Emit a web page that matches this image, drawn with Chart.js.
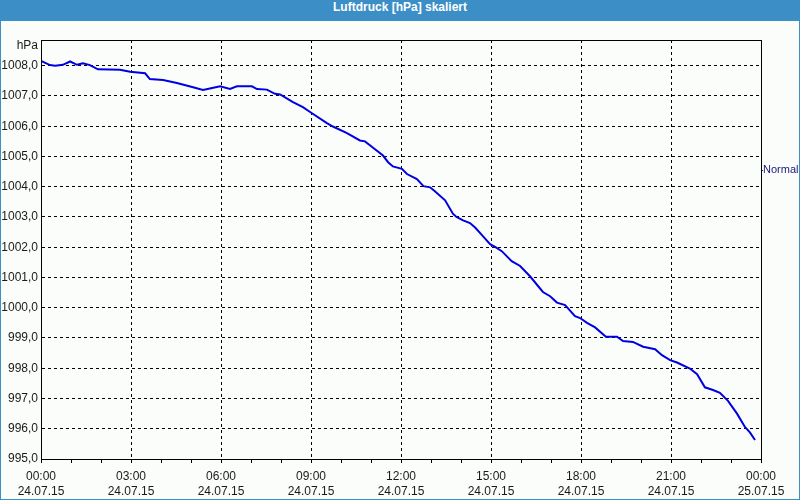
<!DOCTYPE html>
<html>
<head>
<meta charset="utf-8">
<script src="https://cdn.jsdelivr.net/npm/chart.js@4/dist/chart.umd.min.js"></script>
<style>
  html, body { margin: 0; padding: 0; background: #fbfdfb; }
  #rahmen { width: 800px; height: 500px; box-sizing: border-box; border: 1px solid #3c8fc6; border-top: 0; background: #fbfdfb; }
  #titel { height: 21px; line-height: 20px; background: #3c8fc6; color: #fff; text-align: center;
           font: bold 12px "Liberation Sans", Arial, sans-serif; margin: 0 -1px; }
  #wrap { position: relative; width: 798px; height: 478px; }
</style>
</head>
<body>
<div id="rahmen">
  <div id="titel">Luftdruck [hPa] skaliert</div>
  <div id="wrap"><canvas id="myChart"></canvas></div>
</div>
<script>
// Zeit in Stunden ab 24.07.15 00:00
const stunden = [0.00, 0.30, 0.47, 0.73, 0.97, 1.20, 1.40, 1.63, 1.90, 2.63, 2.97, 3.47, 3.63, 4.07, 4.53,
  5.07, 5.40, 5.63, 5.97, 6.30, 6.53, 7.03, 7.20, 7.53, 7.80, 7.97, 8.40, 8.73, 8.97, 9.53, 9.73,
  10.20, 10.63, 10.80, 11.07, 11.40, 11.57, 11.73, 12.03, 12.20, 12.53, 12.75, 12.97, 13.13, 13.47,
  13.73, 13.85, 14.07, 14.30, 14.47, 14.70, 14.97, 15.15, 15.36, 15.69, 15.97, 16.30, 16.73, 16.97,
  17.20, 17.47, 17.80, 17.97, 18.20, 18.47, 18.83, 19.20, 19.40, 19.73, 20.07, 20.47, 20.70, 20.97,
  21.20, 21.63, 21.87, 22.13, 22.40, 22.63, 22.90, 23.20, 23.47, 23.63, 23.80];
const druck = [1008.16, 1008.02, 1008.00, 1008.03, 1008.14, 1008.03, 1008.08, 1008.02, 1007.88, 1007.87,
  1007.80, 1007.75, 1007.56, 1007.53, 1007.43, 1007.29, 1007.20, 1007.25, 1007.32, 1007.23, 1007.32,
  1007.32, 1007.23, 1007.21, 1007.07, 1007.05, 1006.80, 1006.63, 1006.47, 1006.10, 1005.99, 1005.77,
  1005.53, 1005.50, 1005.29, 1005.03, 1004.81, 1004.67, 1004.59, 1004.42, 1004.25, 1004.02, 1003.98,
  1003.85, 1003.55, 1003.11, 1003.00, 1002.89, 1002.80, 1002.65, 1002.40, 1002.10, 1002.00, 1001.87,
  1001.54, 1001.38, 1001.04, 1000.52, 1000.38, 1000.17, 1000.09, 999.72, 999.66, 999.50, 999.35,
  999.04, 999.04, 998.90, 998.87, 998.71, 998.63, 998.43, 998.27, 998.19, 997.99, 997.80, 997.37,
  997.28, 997.19, 996.92, 996.50, 996.05, 995.88, 995.63];

const xZeiten = ["00:00", "03:00", "06:00", "09:00", "12:00", "15:00", "18:00", "21:00", "00:00"];
const xDaten = ["24.07.15", "24.07.15", "24.07.15", "24.07.15", "24.07.15", "24.07.15", "24.07.15", "24.07.15", "25.07.15"];
const yMin = 995;
const yMax = 1008.85;
const normalWert = 1004.55;
const einheit = "hPa";

const schrift = { family: "'Liberation Sans', Arial, sans-serif", size: 12 };

const rahmenPlugin = {
  id: "rahmen",
  afterDraw(chart) {
    const { ctx, chartArea: a } = chart;
    ctx.save();
    ctx.strokeStyle = "#000";
    ctx.lineWidth = 1;
    ctx.strokeRect(Math.round(a.left) + 0.5, Math.round(a.top) + 0.5,
      Math.round(a.right - a.left), Math.round(a.bottom - a.top));
    ctx.fillStyle = "#1a1a1a";
    ctx.font = "12px 'Liberation Sans', Arial, sans-serif";
    ctx.textAlign = "right";
    ctx.textBaseline = "middle";
    ctx.fillText(einheit, a.left - 3, a.top + 6);
    ctx.restore();
  },
};

const ctx = document.querySelector("#myChart");

new Chart(ctx, {
  type: "line",
  data: {
    datasets: [
      {
        data: stunden.map((h, i) => ({ x: h, y: druck[i] })),
        borderColor: "#0000e0",
        borderWidth: 2,
        pointRadius: 0,
        tension: 0,
        fill: false,
      },
    ],
  },
  options: {
    responsive: true,
    maintainAspectRatio: false,
    animation: false,
    layout: { padding: { top: 19, left: 0, right: 0, bottom: 0 } },
    plugins: { legend: { display: false }, tooltip: { enabled: false } },
    scales: {
      x: {
        type: "linear",
        min: 0,
        max: 24,
        afterFit: (s) => { s.height = 40; },
        ticks: {
          stepSize: 1,
          autoSkip: false,
          maxRotation: 0,
          color: "#1a1a1a",
          font: { ...schrift, lineHeight: 1.25 },
          padding: 6,
          callback: (v) => (v % 3 === 0 ? [xZeiten[v / 3], xDaten[v / 3]] : ""),
        },
        grid: {
          color: (c) => (c.tick && c.tick.value % 3 === 0 && c.tick.value > 0 && c.tick.value < 24 ? "#000" : "rgba(0,0,0,0)"),
          tickColor: "#000",
          tickLength: 4,
          tickBorderDash: [],
        },
        border: { display: true, color: "#000", dash: [3, 3] },
      },
      y: {
        type: "linear",
        min: yMin,
        max: yMax,
        afterFit: (s) => { s.width = 40; },
        afterBuildTicks: (s) => {
          s.ticks = [];
          for (let v = yMin; v <= Math.floor(yMax); v++) s.ticks.push({ value: v });
        },
        ticks: {
          color: "#1a1a1a",
          font: schrift,
          padding: 3,
          callback: (v) => v.toFixed(1).replace(".", ","),
        },
        grid: { color: "#000", drawTicks: false },
        border: { display: true, color: "#000", dash: [3, 3] },
      },
      normal: {
        type: "linear",
        position: "right",
        min: yMin,
        max: yMax,
        afterFit: (s) => { s.width = 38; },
        afterBuildTicks: (s) => { s.ticks = [{ value: normalWert }]; },
        ticks: {
          color: "#1a1a7a",
          font: { ...schrift, size: 11 },
          padding: 0,
          callback: () => "Normal",
        },
        grid: { drawOnChartArea: false, tickColor: "#1a1a7a", tickLength: 2 },
        border: { display: true, color: "#000" },
      },
    },
  },
  plugins: [rahmenPlugin],
});
</script>
</body>
</html>
